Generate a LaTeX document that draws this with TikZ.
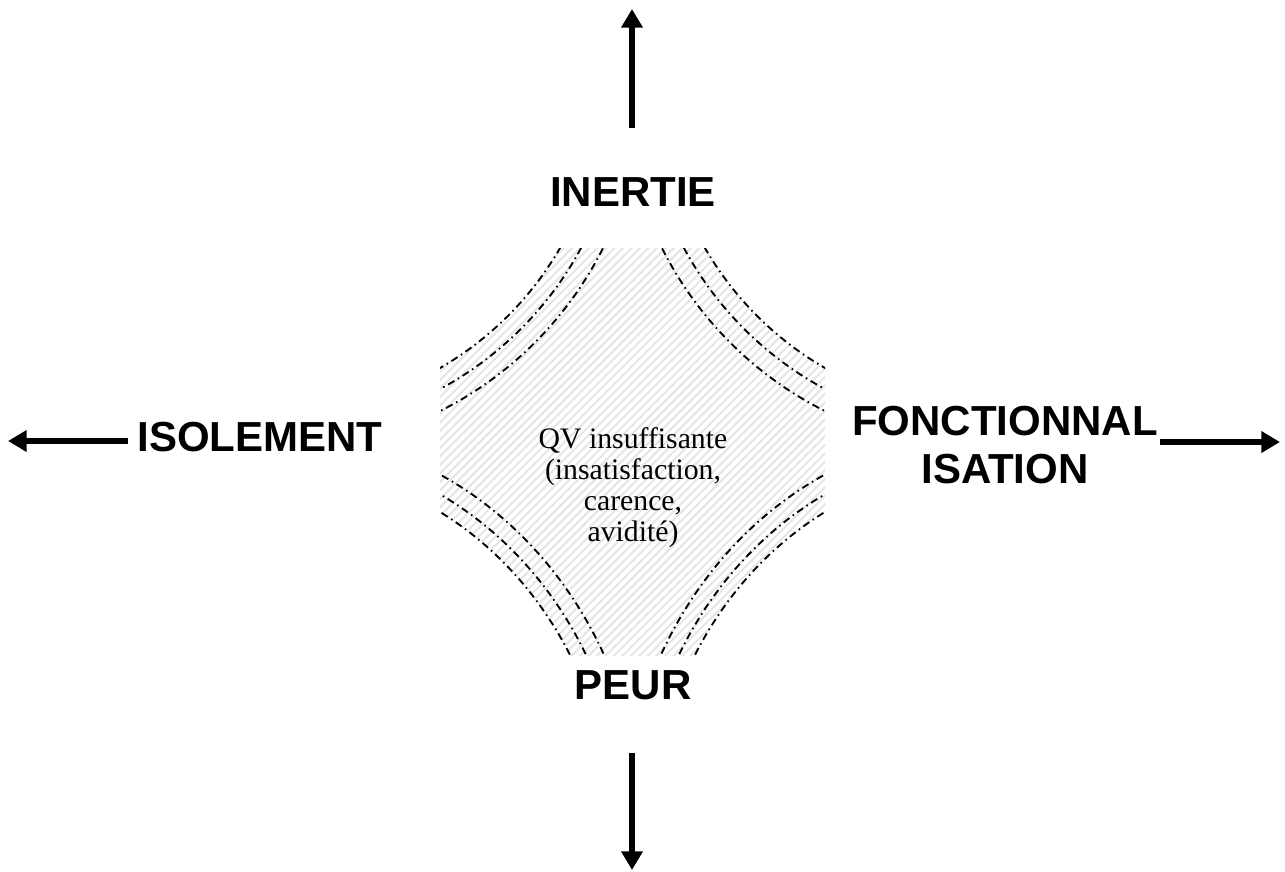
\documentclass[tikz,border=0pt]{standalone}
\usepackage{fontspec}
\setmainfont{Liberation Serif}[Ligatures=CommonOff]
\newfontfamily\labelfont{Liberation Sans}
\usetikzlibrary{arrows.meta,patterns.meta}

\begin{document}
\begin{tikzpicture}[x=0.75pt,y=-0.75pt,
  axislabel/.style={font=\labelfont\bfseries\fontsize{31.5}{36.2}\selectfont, inner sep=0pt, align=center},
  coretext/.style={font=\fontsize{22.3}{23.3}\selectfont, inner sep=0pt, align=center},
  axisarrow/.style={line width=4.5pt, -{Triangle[length=14pt,width=15.5pt]}},
  ringline/.style={line width=1.4pt, dash pattern=on 5.5pt off 3pt on 1.2pt off 3pt},
  hatchfill/.style={pattern={Lines[angle=45,distance=4.5pt,line width=1.5pt]}, pattern color=black!10},
]
\useasboundingbox (0,0) rectangle (1285,871);

% hatched core with concave, triple dash-dotted corners
\begin{scope}
  \clip (440,248) rectangle (825,655);
  \fill[hatchfill] (440,248) rectangle (825,655);
  \foreach \cx/\cy/\sx/\sy/\da/\db/\dc in
    {440/248/1/1/120/141/163, 825/248/-1/1/120/141/163,
     440/655/1/-1.1/130/146/164, 825/655/-1/-1.1/130/146/164} {
    \begin{scope}[shift={(\cx,\cy)}, xscale=\sx, yscale=\sy]
      \pgfmathsetmacro\ra{veclen(\da+163,163)}
      \pgfmathsetmacro\rb{veclen(\db+163,163)}
      \pgfmathsetmacro\rc{veclen(\dc+163,163)}
      \fill[white] (-163,-163) circle[radius=\ra];
      \draw[ringline] (-163,-163) circle[radius=\ra];
      \draw[ringline] (-163,-163) circle[radius=\rb];
      \draw[ringline] (-163,-163) circle[radius=\rc];
    \end{scope}
  }
\end{scope}

\node[coretext] (core) at (633,488) {QV insuffisante\\(insatisfaction,\\carence,\\avidité)};

% the four poles
\node[axislabel] (inertie) at (633,192) {INERTIE};
\node[axislabel] (isolement) at (260,437) {ISOLEMENT};
\node[axislabel] (fonct) at (1005,445) {FONCTIONNAL\\ISATION};
\node[axislabel] (peur) at (633,685) {PEUR};

% outward arrows
\coordinate (upTail) at (632,128);   \coordinate (upTip) at (632,9);
\coordinate (leftTail) at (128,441); \coordinate (leftTip) at (8,441);
\coordinate (rightTail) at (1160,442); \coordinate (rightTip) at (1280,442);
\coordinate (downTail) at (632,753); \coordinate (downTip) at (632,870);
\draw[axisarrow] (upTail) -- (upTip);
\draw[axisarrow] (leftTail) -- (leftTip);
\draw[axisarrow] (rightTail) -- (rightTip);
\draw[axisarrow] (downTail) -- (downTip);
\end{tikzpicture}
\end{document}
